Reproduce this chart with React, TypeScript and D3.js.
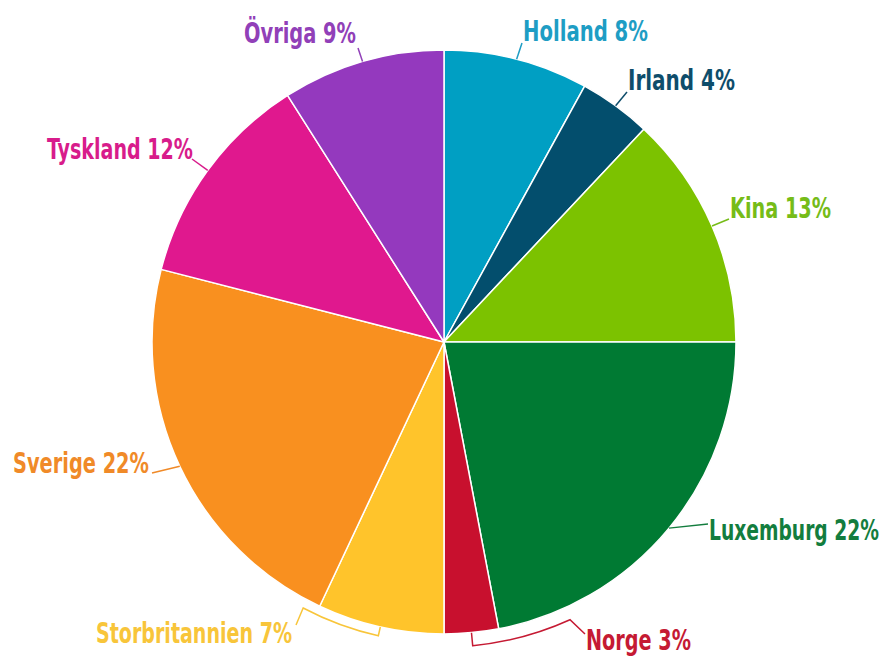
import React from "react";
import * as d3 from "d3";

const categories = ["Holland", "Irland", "Kina", "Luxemburg", "Norge", "Storbritannien", "Sverige", "Tyskland", "Övriga"];
const values = [8, 4, 13, 22, 3, 7, 22, 12, 9];
const labels = ["Holland 8%", "Irland 4%", "Kina 13%", "Luxemburg 22%", "Norge 3%", "Storbritannien 7%", "Sverige 22%", "Tyskland 12%", "Övriga 9%"];
const colors = ["#009FC3", "#034E6D", "#7CC200", "#007A33", "#C8102E", "#FFC42B", "#F9901F", "#E0188E", "#9439BE"];
const labelColors = ["#1E9DC4", "#0E4D6B", "#76BC18", "#137D3E", "#C51A33", "#F8C53A", "#F08A28", "#D81C8B", "#9140B8"];

// layout for labels: text x, baseline y, anchor, text width, leader end point, bracket (offset, end angle deg) or null
const labelLayout = [
  { x: 523, y: 41, anchor: "start", w: 125, ex: 522, ey: 43, bracket: null },
  { x: 628, y: 90, anchor: "start", w: 107, ex: 627, ey: 92, bracket: null },
  { x: 730, y: 218, anchor: "start", w: 101, ex: 729, ey: 219, bracket: null },
  { x: 709, y: 540, anchor: "start", w: 170, ex: 708, ey: 524, bracket: null },
  { x: 586, y: 650, anchor: "start", w: 105, ex: 585, ey: 634, bracket: { off: 13, end: 155.6 } },
  { x: 292, y: 643, anchor: "end", w: 196, ex: 296, ey: 625, bracket: { off: 9, end: 207.9 } },
  { x: 149, y: 473, anchor: "end", w: 136, ex: 152, ey: 473, bracket: null },
  { x: 193, y: 159, anchor: "end", w: 146, ex: 192, ey: 159, bracket: null },
  { x: 356, y: 43, anchor: "end", w: 112, ex: 358, ey: 48, bracket: null },
];

const W = 886;
const H = 656;
const cx = 444;
const cy = 342;
const R = 292;

export default function App() {
  const pie = d3.pie<number>().sort(null).value((d) => d);
  const arcs = pie(values);
  const arcGen = d3.arc<d3.PieArcDatum<number>>().innerRadius(0).outerRadius(R);

  const leaders = arcs.map((a, i) => {
    const L = labelLayout[i];
    const mid = (a.startAngle + a.endAngle) / 2;
    const p = d3.path();
    const sx = cx + R * Math.sin(mid);
    const sy = cy - R * Math.cos(mid);
    p.moveTo(sx, sy);
    if (L.bracket) {
      const rr = R + L.bracket.off;
      const endA = (L.bracket.end * Math.PI) / 180;
      p.lineTo(cx + rr * Math.sin(mid), cy - rr * Math.cos(mid));
      p.arc(cx, cy, rr, mid - Math.PI / 2, endA - Math.PI / 2, endA < mid);
    }
    p.lineTo(L.ex, L.ey);
    return p.toString();
  });

  return (
    <svg width={W} height={H} style={{ position: "absolute", left: 0, top: 0, display: "block", background: "#fff" }}>
      <g transform={`translate(${cx},${cy})`}>
        {arcs.map((a, i) => (
          <path key={categories[i]} d={arcGen(a) || ""} fill={colors[i]} stroke="#fff" strokeWidth={1.5} strokeLinejoin="round" />
        ))}
      </g>
      {leaders.map((d, i) => (
        <path key={"l" + i} d={d} fill="none" stroke={labelColors[i]} strokeWidth={1.5} />
      ))}
      {labels.map((t, i) => {
        const L = labelLayout[i];
        return (
          <text
            key={"t" + i}
            x={L.x}
            y={L.y}
            textAnchor={L.anchor}
            fill={labelColors[i]}
            fontFamily='"Liberation Sans Narrow", "DejaVu Sans Condensed", Roboto, sans-serif'
            fontWeight="bold"
            fontSize={28}
            textLength={L.w}
            lengthAdjust="spacingAndGlyphs"
          >
            {t}
          </text>
        );
      })}
    </svg>
  );
}
